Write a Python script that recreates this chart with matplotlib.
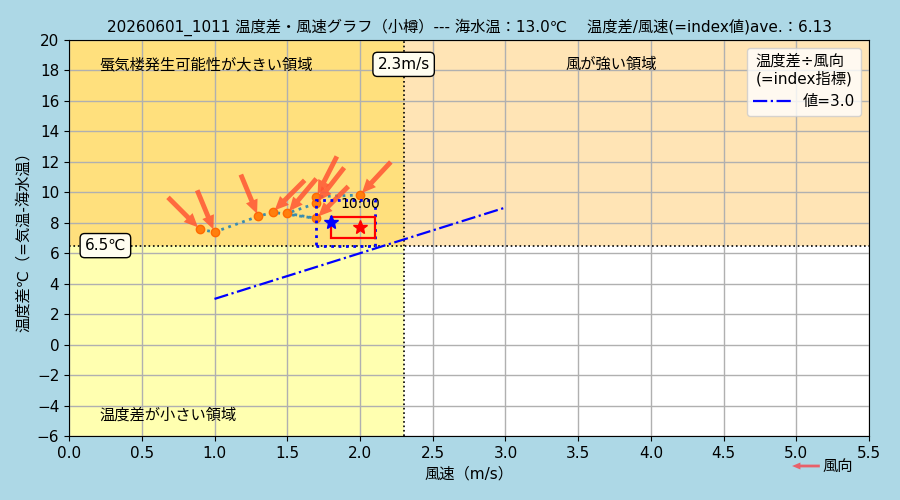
import numpy as np
import matplotlib
matplotlib.use('Agg')
import matplotlib.pyplot as plt
from matplotlib.patches import Rectangle

plt.rcParams['font.family'] = ['DejaVu Sans', 'Noto Sans CJK JP']

# observations (time order), wind direction in degrees (where wind comes from)
wind = [0.9, 1.0, 1.3, 1.4, 1.7, 1.5, 1.7, 1.7, 2.0]
tdiff = [7.57, 7.39, 8.42, 8.69, 8.29, 8.62, 9.28, 9.71, 9.82]
wdir = [315, 337.5, 337.5, 45, 45, 40, 38, 27, 43]
last_time = '10:00'

# summary marks
avg_pt = (1.8, 8.07)    # blue star
now_pt = (2.0, 7.70)    # red star
box_blue = (1.7, 6.5, 2.1, 9.5)
box_red = (1.8, 7.0, 2.1, 8.4)

# thresholds and index line
t_lim = 6.5
w_lim = 2.3
idx_x = [1.0, 3.0]
idx_val = 3.0

title = '20260601_1011 温度差・風速グラフ（小樽）--- 海水温：13.0℃　 温度差/風速(=index値)ave.：6.13'

fig = plt.figure(figsize=(9, 5), dpi=100, facecolor='#ADD8E6')
ax = fig.add_axes([0.0767, 0.128, 0.889, 0.792])
ax.set_xlim(0, 5.5)
ax.set_ylim(-6, 20)

# background regions
ax.add_patch(Rectangle((0, t_lim), w_lim, 20 - t_lim, color='#FFE07D', zorder=0))
ax.add_patch(Rectangle((w_lim, t_lim), 5.5 - w_lim, 20 - t_lim, color='#FFE4B5', zorder=0))
ax.add_patch(Rectangle((0, -6), w_lim, t_lim + 6, color='#FFFFB0', zorder=0))
ax.add_patch(Rectangle((w_lim, -6), 5.5 - w_lim, t_lim + 6, color='white', zorder=0))

ax.set_xticks(np.arange(0, 5.51, 0.5))
ax.set_yticks(np.arange(-6, 21, 2))
ax.grid(True, color='#b0b0b0', lw=1, zorder=1)
ax.set_axisbelow(True)
ax.tick_params(labelsize=11)

ax.axhline(t_lim, color='black', ls=':', lw=1.2, zorder=2)
ax.axvline(w_lim, color='black', ls=':', lw=1.2, zorder=2)

# index line
ix = np.array(idx_x)
ax.plot(ix, ix * idx_val, color='blue', ls='-.', lw=1.6, label='値=3.0', zorder=3)

# trajectory
ax.plot(wind, tdiff, ls=':', color='#3C8DAD', lw=2, zorder=4)
ax.plot(wind, tdiff, 'o', color='#FF7F0E', mec='#FF6A00', ms=6, zorder=5)

# wind direction arrows
L = 48
for x, y, d in zip(wind, tdiff, wdir):
    r = np.radians(d)
    ax.annotate('', xy=(x, y), xytext=(L * np.sin(r), L * np.cos(r)),
                textcoords='offset pixels',
                arrowprops=dict(arrowstyle='simple,head_width=0.9,head_length=1.0,tail_width=0.35',
                                color='#FF5533', alpha=0.85, lw=0), zorder=6)

ax.text(wind[-1], tdiff[-1] - 0.6, last_time, ha='center', va='center', fontsize=10, zorder=7)

bx = box_blue
ax.add_patch(Rectangle((bx[0], bx[1]), bx[2] - bx[0], bx[3] - bx[1], fill=False,
                       ec='blue', ls=':', lw=2, zorder=6))
rx = box_red
ax.add_patch(Rectangle((rx[0], rx[1]), rx[2] - rx[0], rx[3] - rx[1], fill=False,
                       ec='red', lw=1.6, zorder=6))
ax.plot(*avg_pt, marker='*', color='blue', ms=10, zorder=7)
ax.plot(*now_pt, marker='*', color='red', ms=10, zorder=7)

# labels
bbox = dict(boxstyle='round,pad=0.3', fc='#FFFDF0', ec='black', lw=1)
ax.text(0.25, t_lim, '6.5℃', ha='center', va='center', fontsize=11, bbox=bbox, zorder=8)
ax.text(w_lim, 18.4, '2.3m/s', ha='center', va='center', fontsize=11, bbox=bbox, zorder=8)
ax.text(0.21, 18.4, '蜃気楼発生可能性が大きい領域', ha='left', va='center', fontsize=11)
ax.text(3.41, 18.4, '風が強い領域', ha='left', va='center', fontsize=11)
ax.text(0.21, -4.6, '温度差が小さい領域', ha='left', va='center', fontsize=11)

ax.set_title(title, fontsize=11, pad=6)
ax.set_xlabel('風速（m/s）', fontsize=11)
ax.set_ylabel('温度差℃（=気温-海水温）', fontsize=11)

leg = ax.legend(loc='upper right', title='温度差÷風向\n(=index指標)', fontsize=11,
                title_fontsize=11, handlelength=2.5)

# wind direction legend
fig.text(0.914, 0.068, '風向', ha='left', va='center', fontsize=11)
ax.annotate('', xy=(0.877, 0.068), xytext=(0.914, 0.068), xycoords='figure fraction',
            textcoords='figure fraction',
            arrowprops=dict(arrowstyle='simple,head_width=0.5,head_length=0.6,tail_width=0.2',
                            color='#E8606A', lw=0))

fig.savefig('out.png', dpi=100, facecolor=fig.get_facecolor())
